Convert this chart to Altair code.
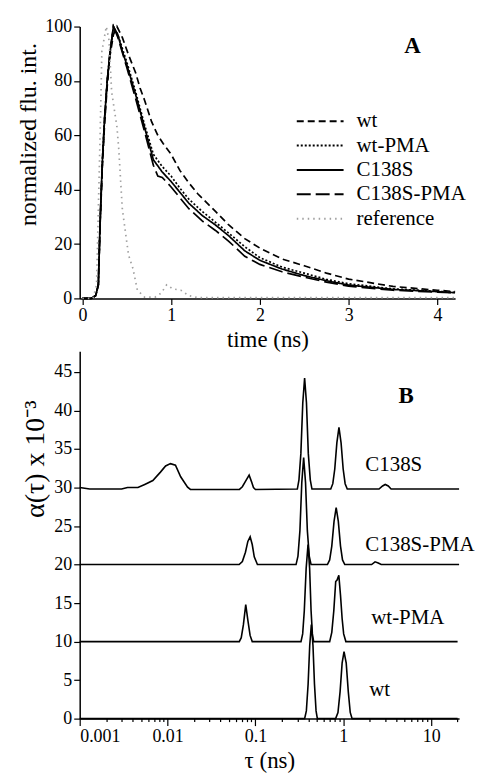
import altair as alt
import pandas as pd

# ---------------- Panel A: normalized fluorescence decays ----------------
series_a = ["wt", "wt-PMA", "C138S", "C138S-PMA", "reference"]

t_wt = [0, 0.1, 0.15, 0.18, 0.2, 0.225, 0.25, 0.28, 0.31, 0.35, 0.39, 0.45, 0.52, 0.6, 0.65, 0.7,
        0.78, 0.85, 0.91, 1.0, 1.1, 1.2, 1.3, 1.5, 1.65, 1.83, 2.0, 2.25, 2.5, 2.75, 3.0, 3.5, 4.0, 4.2]
v_wt = [0, 0, 1, 5, 27, 48, 64, 78, 89, 97, 100, 96, 89.6, 83, 77.4, 73,
        65, 60, 57, 53, 47, 42.5, 38.5, 32, 27, 22, 18.5, 14.5, 12, 9.3, 7.1, 4.4, 3.0, 2.5]

t_wtpma = [0, 0.1, 0.15, 0.18, 0.2, 0.225, 0.25, 0.28, 0.31, 0.35, 0.4, 0.5, 0.6, 0.7, 0.8, 0.9,
           1.0, 1.1, 1.2, 1.35, 1.5, 1.65, 1.83, 2.0, 2.25, 2.5, 2.75, 3.0, 3.5, 4.0, 4.2]
v_wtpma = [0, 0, 1, 5, 28, 50, 66, 80, 90, 100, 97, 87, 76, 64, 53, 48.5,
           45, 40.5, 36.5, 32, 28, 24, 19, 15, 11.5, 9.3, 7, 5.4, 3.5, 2.6, 2.2]

t_c138s = [0, 0.1, 0.15, 0.18, 0.2, 0.225, 0.25, 0.28, 0.31, 0.35, 0.4, 0.45, 0.5, 0.6, 0.7, 0.8,
           0.9, 1.0, 1.1, 1.2, 1.35, 1.5, 1.65, 1.83, 2.0, 2.25, 2.5, 2.75, 3.0, 3.5, 4.0, 4.2]
v_c138s = [0, 0, 1, 5, 28, 50, 66, 80, 90, 100, 97, 91, 86, 75, 63, 51,
           46.5, 43, 39, 35, 30.5, 27, 23, 17.5, 14, 10.8, 8.4, 6.5, 4.9, 3.3, 2.5, 2.1]

t_c138spma = [0, 0.1, 0.15, 0.18, 0.2, 0.225, 0.25, 0.28, 0.31, 0.35, 0.4, 0.5, 0.6, 0.7, 0.8, 0.85,
              0.9, 1.0, 1.1, 1.2, 1.35, 1.5, 1.65, 1.83, 2.0, 2.25, 2.5, 2.75, 3.0, 3.5, 4.0, 4.2]
v_c138spma = [0, 0, 1, 5, 28, 50, 66, 80, 90, 100, 96, 85, 73.5, 61.5, 49, 45,
              44.5, 41, 37, 33, 28.5, 25, 21, 15.5, 12.5, 9.8, 7.8, 6, 4.5, 3, 2.3, 2]

t_ref = [0, 0.12, 0.16, 0.2, 0.22, 0.27, 0.3, 0.33, 0.39, 0.41, 0.45, 0.52, 0.57, 0.62, 0.7,
         0.82, 0.89, 0.95, 1.02, 1.11, 1.2, 1.3, 2.0, 3.0, 4.2]
v_ref = [0, 0, 5, 60, 91, 100, 95, 76, 63, 55, 33, 16, 11, 3, 0.5,
         0.5, 2, 5, 3.5, 3, 1, 0.3, 0.3, 0.3, 0.3]

rows_a = []
for name, ts, vs in [("wt", t_wt, v_wt), ("wt-PMA", t_wtpma, v_wtpma), ("C138S", t_c138s, v_c138s),
                     ("C138S-PMA", t_c138spma, v_c138spma), ("reference", t_ref, v_ref)]:
    for t, v in zip(ts, vs):
        rows_a.append({"t": t, "v": v, "series": name})
df_a = pd.DataFrame(rows_a)

letter_a = pd.DataFrame({"t": [3.72], "v": [92.7], "txt": ["A"]})

# ---------------- Panel B: lifetime distributions ----------------
tau_c138s = [0.001, 0.0013, 0.003, 0.0035, 0.0046, 0.0055, 0.0068, 0.0083, 0.0095, 0.0108, 0.0123,
             0.0141, 0.0169, 0.0182, 0.0658, 0.071, 0.077, 0.0848, 0.090, 0.095, 0.10,
             0.30, 0.313, 0.329, 0.346, 0.363, 0.381, 0.40, 0.421, 0.44,
             0.72, 0.76, 0.80, 0.845, 0.893, 0.944, 0.997, 1.05, 1.11,
             2.55, 2.8, 3.0, 3.25, 3.5, 20.8]
a_c138s = [30, 29.8, 29.8, 30, 30.0, 30.4, 30.9, 32.0, 32.8, 33.1, 32.9,
           31.4, 30.05, 29.75, 29.75, 30.1, 30.8, 31.6, 30.8, 30.0, 29.75,
           29.8, 31.0, 34.4, 41.0, 44.2, 41.0, 34.4, 31.0, 29.8,
           29.8, 30.5, 32.4, 35.8, 37.8, 35.8, 32.4, 30.5, 29.8,
           29.8, 30.2, 30.4, 30.2, 29.8, 29.8]

tau_c138spma = [0.001, 0.0653, 0.071, 0.077, 0.082, 0.0871, 0.092, 0.097, 0.1054,
                0.29, 0.305, 0.321, 0.337, 0.354, 0.372, 0.39, 0.41, 0.43,
                0.66, 0.70, 0.74, 0.785, 0.83, 0.878, 0.93, 0.98, 1.04,
                2.1, 2.3, 2.5, 2.7, 20.8]
a_c138spma = [20, 20, 20.4, 21.6, 23.0, 23.6, 22.6, 21.0, 20.0,
              20, 21.1, 24.4, 30.6, 33.9, 30.6, 24.4, 21.1, 20,
              20, 20.6, 22.4, 25.6, 27.4, 25.6, 22.4, 20.6, 20,
              20, 20.35, 20.2, 20, 20]

tau_wtpma = [0.001, 0.0655, 0.069, 0.073, 0.0776, 0.082, 0.087, 0.092,
             0.33, 0.345, 0.36, 0.378, 0.397, 0.414, 0.43, 0.445, 0.46,
             0.70, 0.74, 0.78, 0.82, 0.85, 0.89, 0.93, 0.97, 1.01, 1.07, 20.0]
a_wtpma = [10, 10, 10.5, 12.2, 14.8, 12.8, 10.8, 10.0,
           10, 11.0, 14.0, 19.5, 22.6, 19.5, 14.0, 11.0, 10,
           10, 11.2, 14, 17.8, 18.0, 18.6, 16, 13, 11, 10, 10]

tau_wt = [0.001, 0.363, 0.38, 0.398, 0.415, 0.433, 0.452, 0.47, 0.49, 0.507,
          0.818, 0.87, 0.92, 0.97, 1.02, 1.08, 1.14, 1.2, 1.26, 20.0]
a_wt = [0, 0, 1, 4.5, 9.5, 12.2, 9.5, 4.5, 1, 0,
        0, 0.8, 3.5, 7.2, 8.7, 7.2, 3.5, 0.8, 0, 0]

rows_b = []
for name, ts, vs in [("C138S", tau_c138s, a_c138s), ("C138S-PMA", tau_c138spma, a_c138spma),
                     ("wt-PMA", tau_wtpma, a_wtpma), ("wt", tau_wt, a_wt)]:
    for t, v in zip(ts, vs):
        rows_b.append({"tau": t, "a": v, "series": name})
df_b = pd.DataFrame(rows_b)

label_names = ["C138S", "C138S-PMA", "wt-PMA", "wt"]
label_tau = [1.78, 1.78, 2.08, 1.97]
label_a = [32.9, 22.6, 13.1, 3.7]
labels_b = pd.DataFrame({"tau": label_tau, "a": label_a, "txt": label_names})
letter_b = pd.DataFrame({"tau": [5.2], "a": [41.9], "txt": ["B"]})

decades = [0.001, 0.01, 0.1, 1, 10]
minor = [m * d for d in [0.001, 0.01, 0.1, 1] for m in range(2, 10)] + [20]

FONT = "Liberation Serif"
is_decade = "abs(log(datum.value)/LN10 - round(log(datum.value)/LN10)) < 0.001"

legend_a = alt.Legend(title=None, orient="none", legendX=217, legendY=87,
                      symbolType="stroke", symbolSize=2209, symbolStrokeWidth=2,
                      clipHeight=16, rowPadding=3.5, labelFont=FONT,
                      labelFontSize=21, labelOffset=12, labelColor="black")

# ---------------- Charts ----------------
xa = alt.X("t:Q", scale=alt.Scale(domain=[-0.03, 4.2], nice=False, zero=False),
           axis=alt.Axis(values=[0, 1, 2, 3, 4], format="d", title="time (ns)"))
ya = alt.Y("v:Q", scale=alt.Scale(domain=[0, 100], nice=False),
           axis=alt.Axis(values=[0, 20, 40, 60, 80, 100], title="normalized flu. int.",
                         titleFontSize=24, titleY=108))

lines_a = alt.Chart(df_a).mark_line(strokeWidth=1.7).encode(
    x=xa, y=ya,
    color=alt.Color("series:N", scale=alt.Scale(domain=series_a,
                    range=["black", "black", "black", "black", "#a0a0a0"]),
                    legend=legend_a),
    strokeDash=alt.StrokeDash("series:N", scale=alt.Scale(domain=series_a,
                              range=[[7, 4], [2, 2], [1, 0], [14, 5], [1.5, 4]]),
                              legend=legend_a),
    detail="series:N",
)
text_a = alt.Chart(letter_a).mark_text(font=FONT, fontSize=23, fontWeight="bold",
                                        align="center", baseline="middle").encode(
    x="t:Q", y="v:Q", text="txt:N")
panel_a = alt.layer(lines_a, text_a).properties(width=377, height=273)

xb = alt.X("tau:Q", scale=alt.Scale(type="log", domain=[0.001, 20.8], nice=False),
           axis=alt.Axis(values=decades + minor, title="τ (ns)",
                         labelExpr=f"{is_decade} ? format(datum.value, '~g') : ''",
                         tickSize={"condition": {"test": is_decade, "value": 7}, "value": 3}))
yb = alt.Y("a:Q", scale=alt.Scale(domain=[0, 47.7], nice=False),
           axis=alt.Axis(values=list(range(0, 50, 5)), title="α(τ) x 10⁻³", titleFontSize=28,
                         titleY=108))

lines_b = alt.Chart(df_b).mark_line(strokeWidth=1.6, color="black").encode(
    x=xb, y=yb, detail="series:N")
text_b = alt.Chart(labels_b).mark_text(font=FONT, fontSize=21, align="left",
                                        baseline="middle").encode(
    x="tau:Q", y="a:Q", text="txt:N")
letter_bc = alt.Chart(letter_b).mark_text(font=FONT, fontSize=23, fontWeight="bold",
                                          align="center", baseline="middle").encode(
    x="tau:Q", y="a:Q", text="txt:N")
panel_b = alt.layer(lines_b, text_b, letter_bc).properties(width=381, height=369)

chart = alt.vconcat(panel_a, panel_b, spacing=-11).properties(
    padding={"left": 9, "top": 8, "right": 5, "bottom": 5}
).configure(font=FONT).configure_view(stroke=None).configure_axis(
    grid=False, domainColor="black", tickColor="black", labelColor="black", titleColor="black",
    labelFont=FONT, titleFont=FONT, labelFontSize=18, titleFontSize=23, titleFontWeight="normal",
    tickSize=6, domainWidth=1.5, tickWidth=1.2
)

chart.save("out.html", embed_options={"renderer": "svg", "actions": False})
